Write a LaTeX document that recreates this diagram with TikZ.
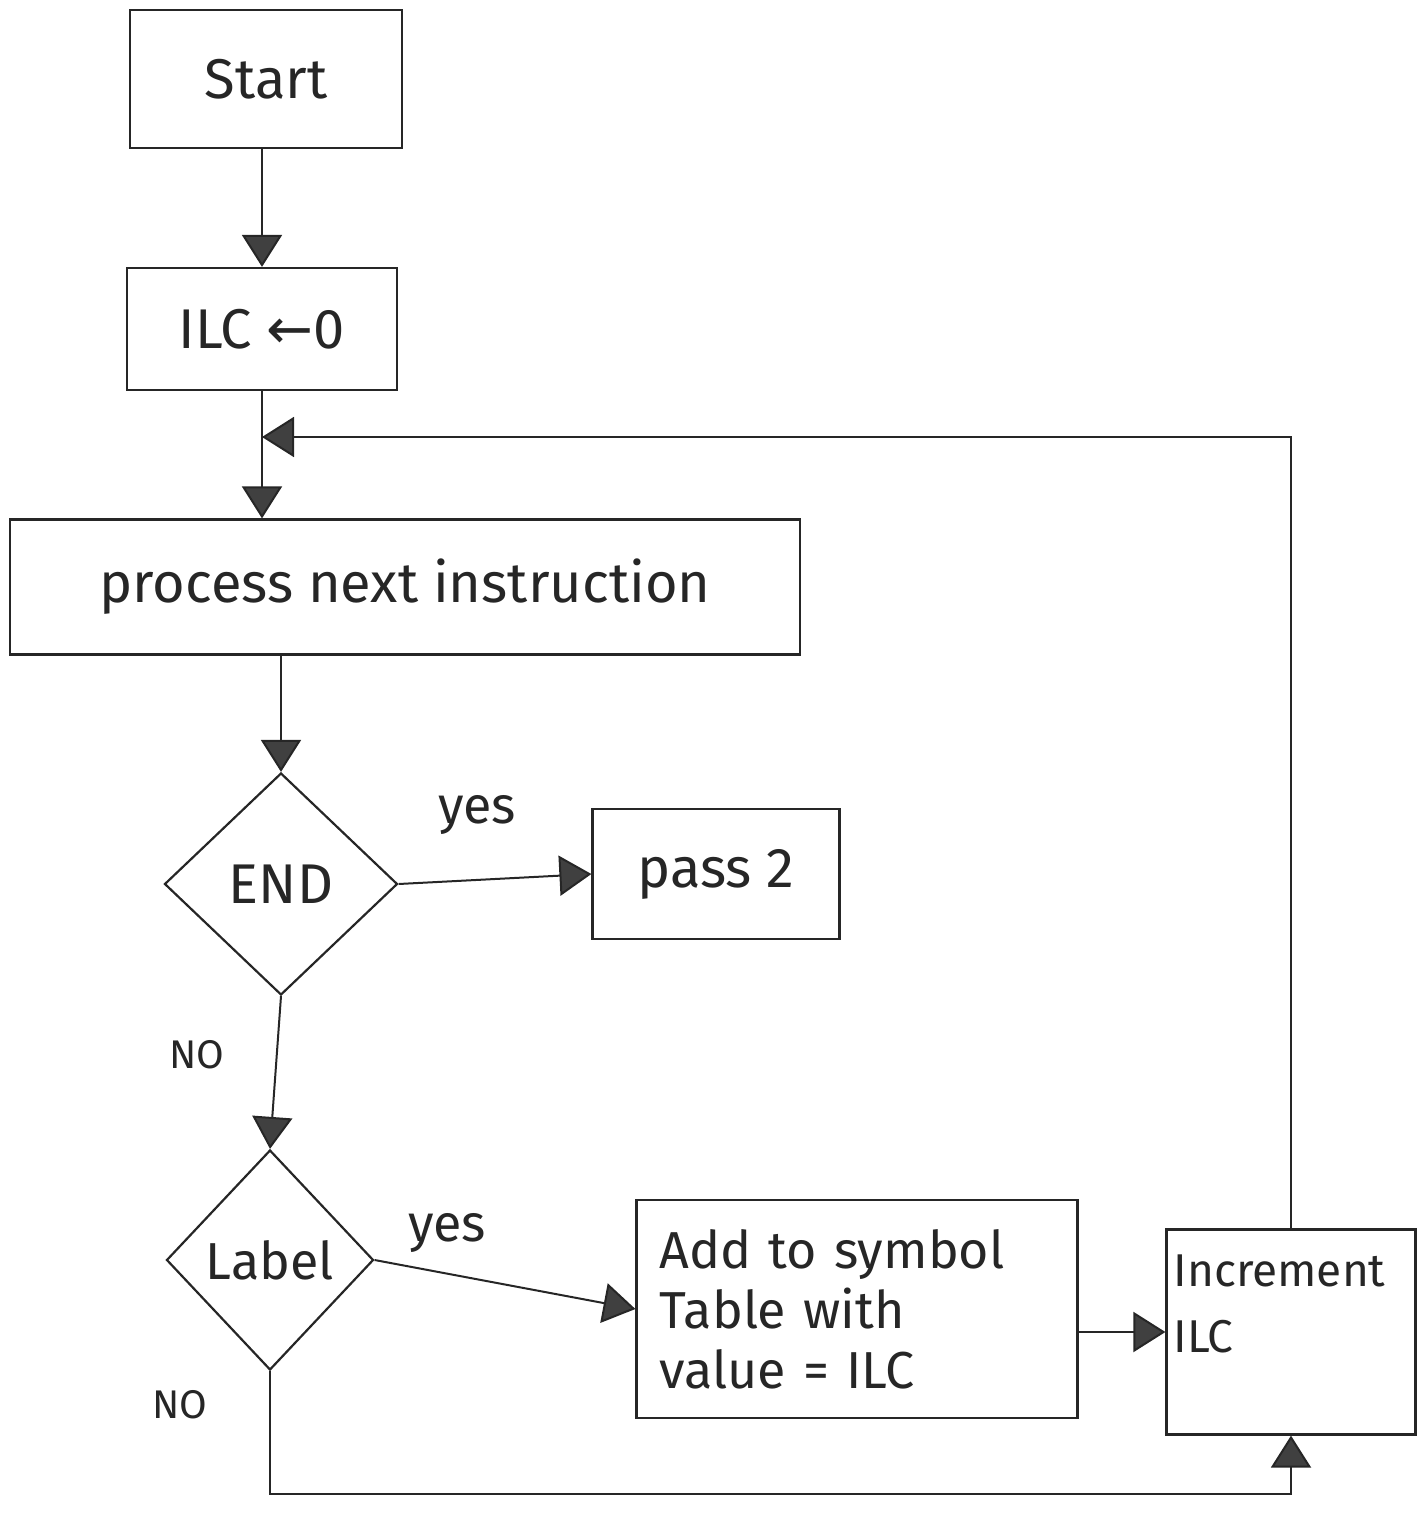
\documentclass[tikz,border=0pt]{standalone}
\usepackage{fontspec}
\setmainfont{Fira Sans}
\newfontfamily\arrowfont{DejaVu Sans}
\usetikzlibrary{shapes.geometric,arrows.meta}
\begin{document}
\begin{tikzpicture}[x=1pt,y=-1pt,
  every node/.style={font=\fontsize{56}{62}\selectfont,text=black!85},
  box/.style={draw=black!85,line width=2.2pt,rectangle,inner sep=0pt},
  dec/.style={draw=black!85,line width=2.2pt,diamond,inner sep=0pt},
  conn/.style={draw=black!85,line width=2pt},
  arr/.style={conn,-{Triangle[length=32pt,width=40pt,fill=black!75]}},
  lbl/.style={font=\fontsize{52}{58}\selectfont},
  nolbl/.style={font=\fontsize{40}{46}\selectfont}]
\useasboundingbox (0,0) rectangle (1420,1522);
\node[box,minimum width=272pt,minimum height=138pt] (start) at (266,79) {Start};
\node[box,minimum width=270pt,minimum height=122pt] (ilc) at (262,329) {ILC {\arrowfont ←}0};
\node[box,minimum width=790pt,minimum height=135pt] (proc) at (405,587) {process next instruction};
\node[dec,minimum width=233pt,minimum height=222pt] (endd) at (281,884) {END};
\node[box,minimum width=247pt,minimum height=130pt] (pass) at (716,874) {pass 2};
\node[dec,minimum width=207pt,minimum height=220pt,font=\fontsize{52}{58}\selectfont] (lab) at (270,1260) {Label};
\node[box,minimum width=441pt,minimum height=218pt,align=left,text width=395pt,inner xsep=23pt,font=\fontsize{52}{60}\selectfont] (add) at (857,1309) {Add to symbol\\Table with\\value = ILC};
\node[box,minimum width=249pt,minimum height=205pt,align=left,text width=235pt,inner xsep=7pt,font=\fontsize{46}{66}\selectfont] (inc) at (1291,1332) {Increment\\ILC\\[-10pt]\mbox{}};
\coordinate (loopA) at (1291,437);
\coordinate (bot) at (270,1494);
\draw[arr] (start.south -| ilc) -- (ilc.north);
\draw[arr] (ilc.south) -- (ilc.south |- proc.north);
\draw[arr] (proc.south -| endd) -- (endd.north);
\draw[arr] (endd.east) -- (pass.west);
\draw[arr] (endd.south) -- (lab.north);
\draw[arr] (lab.east) -- (add.west);
\draw[arr] (add.east |- inc.west) -- (inc.west);
\draw[arr] (lab.south) -- (lab.south |- bot) -- (bot -| inc.south) -- (inc.south);
\draw[arr] (inc.north) -- (loopA) -- (loopA -| ilc.south);
\node[lbl] (y1) at (477,815) {yes};
\node[nolbl] (n1) at (197,1055) {NO};
\node[lbl] (y2) at (447,1233) {yes};
\node[nolbl] (n2) at (180,1405) {NO};
\end{tikzpicture}
\end{document}
